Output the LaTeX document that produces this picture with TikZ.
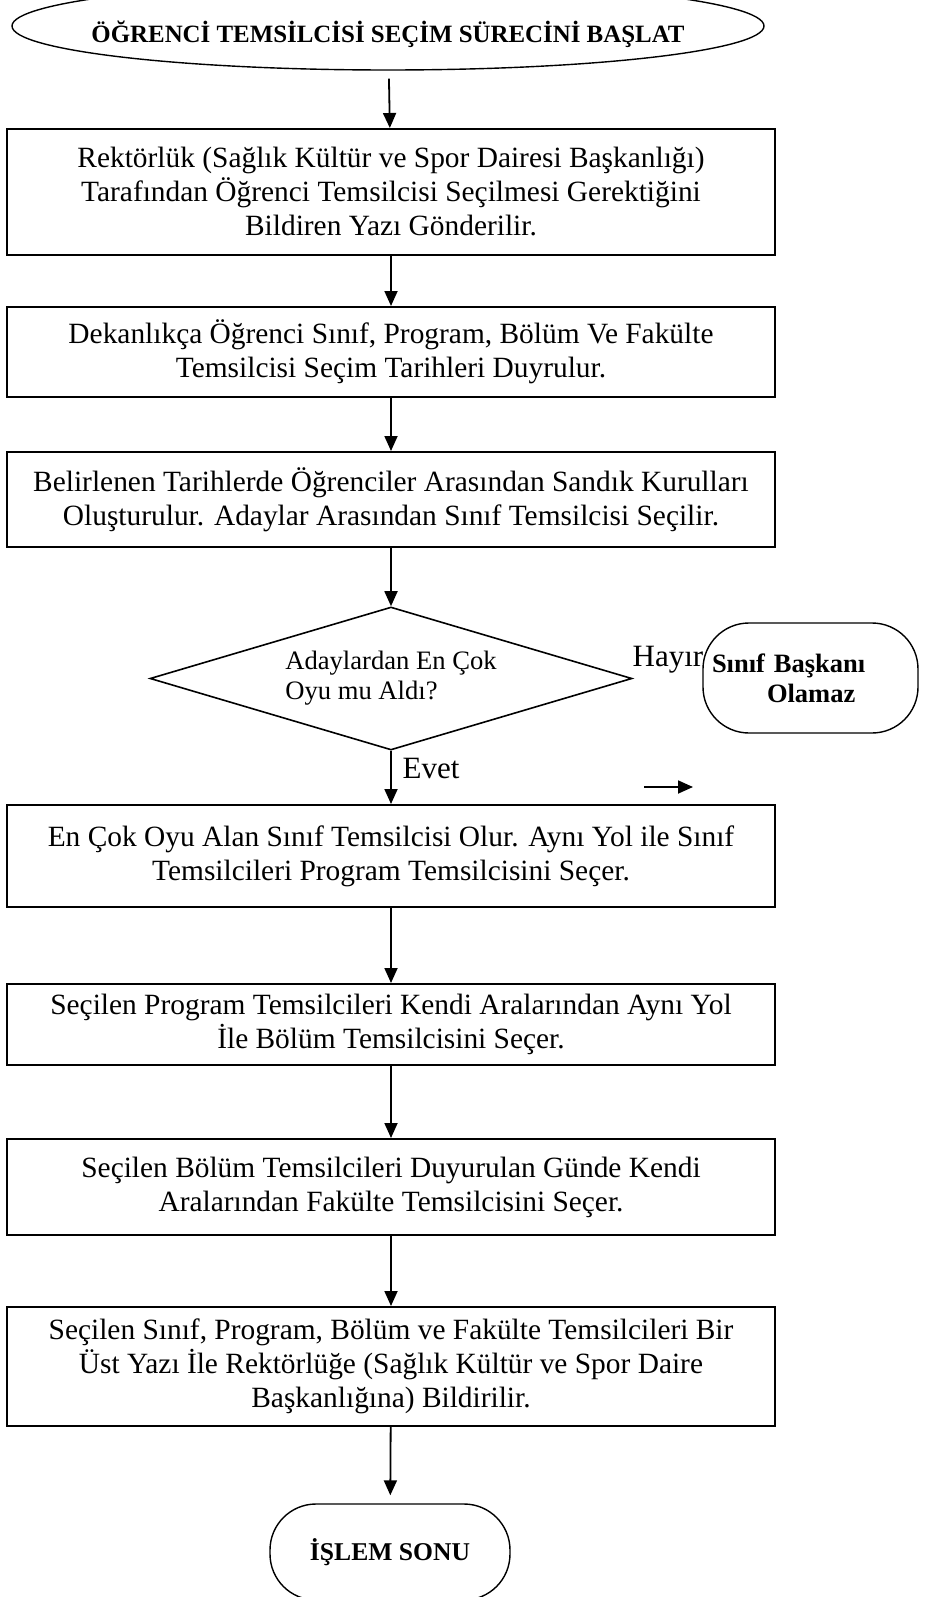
\documentclass[tikz,border=0pt]{standalone}
\usepackage{fontspec}
\setmainfont{Liberation Serif}
\usetikzlibrary{shapes.geometric,arrows.meta}

\begin{document}
\begin{tikzpicture}[x=1pt,y=-1pt,
    kutu/.style={draw,line width=2pt,minimum width=768pt,inner sep=0pt,align=center,font=\fontsize{29.4}{34}\selectfont},
    uc/.style={draw,line width=1.4pt,rounded corners=46pt,inner sep=0pt,font=\bfseries\fontsize{25.6}{30}\selectfont},
    ok/.style={line width=1.8pt,-{Triangle[length=15pt,width=13pt]}}]%Öğrenci temsilcisi seçim akışı
        \useasboundingbox (0,0) rectangle (938,1597);

        \node[draw,ellipse,line width=1.4pt,minimum width=752pt,minimum height=88pt,inner sep=0pt,font=\bfseries\fontsize{24.9}{30}\selectfont] (basla) at (388,26) {\raisebox{-17pt}[0pt][0pt]{\makebox[0pt]{ÖĞRENCİ TEMSİLCİSİ SEÇİM SÜRECİNİ BAŞLAT}}};

        \node[kutu,minimum height=126pt] (b1) at (391,192) {Rektörlük (Sağlık Kültür ve Spor Dairesi Başkanlığı)\\Tarafından Öğrenci Temsilcisi Seçilmesi Gerektiğini\\Bildiren Yazı Gönderilir.};
        \node[kutu,minimum height=90pt] (b2) at (391,352) {Dekanlıkça Öğrenci Sınıf, Program, Bölüm Ve Fakülte\\Temsilcisi Seçim Tarihleri Duyrulur.};
        \node[kutu,minimum height=95pt] (b3) at (391,499.5) {Belirlenen Tarihlerde Öğrenciler Arasından Sandık Kurulları\\Oluşturulur. Adaylar Arasından Sınıf Temsilcisi Seçilir.};

        \node[draw,diamond,aspect=3.3,line width=1.6pt,minimum width=482pt,minimum height=143pt,inner sep=0pt,align=left,font=\fontsize{26.6}{30}\selectfont] (karar) at (391,678.5) {Adaylardan En Çok\\Oyu mu Aldı?};
        \node[uc,minimum width=215pt,minimum height=110pt,text width=197pt,align=left,font=\bfseries\fontsize{26.5}{30}\selectfont] (olamaz) at (810.5,678) {Sınıf Başkanı\\\hspace*{55pt}Olamaz};
        \node[inner sep=0pt,font=\fontsize{31}{36}\selectfont] (hayir) at (668,660) {Hayır};
        \node[inner sep=0pt,font=\fontsize{31}{36}\selectfont] (evet) at (431,768) {Evet};

        \node[kutu,minimum height=102pt] (b4) at (391,856) {En Çok Oyu Alan Sınıf Temsilcisi Olur. Aynı Yol ile Sınıf\\Temsilcileri Program Temsilcisini Seçer.};
        \node[kutu,minimum height=81pt] (b5) at (391,1024.5) {Seçilen Program Temsilcileri Kendi Aralarından Aynı Yol\\İle Bölüm Temsilcisini Seçer.};
        \node[kutu,minimum height=96pt] (b6) at (391,1187) {Seçilen Bölüm Temsilcileri Duyurulan Günde Kendi\\Aralarından Fakülte Temsilcisini Seçer.};
        \node[kutu,minimum height=119pt] (b7) at (391,1366.5) {Seçilen Sınıf, Program, Bölüm ve Fakülte Temsilcileri Bir\\Üst Yazı İle Rektörlüğe (Sağlık Kültür ve Spor Daire\\Başkanlığına) Bildirilir.};

        \node[uc,minimum width=240pt,minimum height=96pt] (son) at (390,1552) {İŞLEM SONU};

        \draw[ok,shorten <=8pt] (basla) -- (b1);
        \draw[ok] (b1) -- (b2);
        \draw[ok] (b2) -- (b3);
        \draw[ok] (b3) -- (karar);
        \draw[ok] (karar) -- (b4);
        \draw[ok] (b4) -- (b5);
        \draw[ok] (b5) -- (b6);
        \draw[ok] (b6) -- (b7);
        \draw[ok,shorten >=8pt] (b7) -- (son);

        \coordinate (okA) at (644,787);
        \coordinate (okB) at (693,787);
        \draw[ok] (okA) -- (okB);
    \end{tikzpicture}
\end{document}
